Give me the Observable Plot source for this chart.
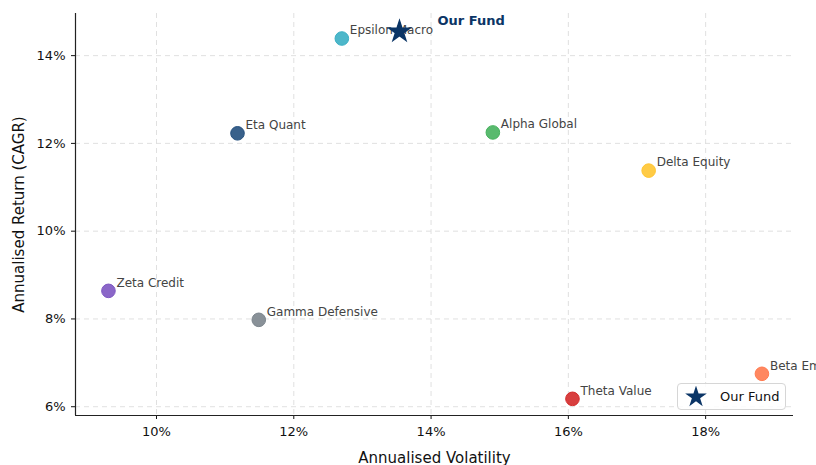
<!DOCTYPE html>
<html><head><meta charset="utf-8">
<script src="https://cdn.jsdelivr.net/npm/d3@7"></script>
<script src="https://cdn.jsdelivr.net/npm/@observablehq/plot@0.6"></script>
<style>
body{margin:0;background:#fff;font-family:"DejaVu Sans",sans-serif;}
#wrap{position:relative;width:816px;height:465px;overflow:hidden;}
#legend{position:absolute;left:677px;top:383px;width:109px;height:27px;border:1px solid #d6d6d6;border-radius:4px;background:rgba(255,255,255,0.85);font:13px "DejaVu Sans",sans-serif;color:#111;box-sizing:border-box;}
#legend svg{position:absolute;left:6px;top:2px;}
#legend span{position:absolute;left:42px;top:5px;}
</style></head><body>
<div id="wrap"><div id="legend"><svg width="24" height="22"><path id="lstar"></path></svg><span>Our Fund</span></div></div>
<script>
const names = ["Epsilon Macro","Eta Quant","Alpha Global","Delta Equity","Zeta Credit","Gamma Defensive","Theta Value","Beta Emerging"];
const volatility = [12.70, 11.18, 14.90, 17.17, 9.30, 11.49, 16.06, 18.82];
const cagr = [14.39, 12.23, 12.25, 11.38, 8.64, 7.98, 6.18, 6.75];
const colors = ["#3aafc4","#24507e","#47b25e","#ffc531","#7e57c2","#7c858d","#d42a2a","#ff7a4f"];
const fundName = "Our Fund";
const fundVol = [13.54];
const fundRet = [14.55];
const fundColor = "#0b3566";
const xTicks = [10,12,14,16,18];
const yTicks = [6,8,10,12,14];
const xDomain = [8.82, 19.28];
const yDomain = [5.80, 14.96];

const peers = names.map((n,i)=>({name:n, x:volatility[i], y:cagr[i], c:colors[i]}));
const fund = fundVol.map((v,i)=>({name:fundName, x:v, y:fundRet[i]}));
const fmt = d => d + "%";

const chart = Plot.plot({
  width: 816, height: 465,
  marginLeft: 75, marginRight: 23, marginTop: 13, marginBottom: 50,
  style: {fontFamily: "DejaVu Sans, sans-serif", fontSize: "13px", color: "#111", overflow: "visible"},
  x: {domain: xDomain},
  y: {domain: yDomain},
  marks: [
    Plot.gridX(xTicks, {stroke: "#dcdcdc", strokeOpacity: 1, strokeDasharray: "5,4", strokeWidth: 0.9}),
    Plot.gridY(yTicks, {stroke: "#dcdcdc", strokeOpacity: 1, strokeDasharray: "5,4", strokeWidth: 0.9}),
    Plot.axisX(xTicks, {tickFormat: fmt, tickSize: 4, tickPadding: 7, label: "Annualised Volatility", labelAnchor: "center", labelArrow: "none", labelOffset: 47, fontSize: 13}),
    Plot.axisY(yTicks, {tickFormat: fmt, tickSize: 4, tickPadding: 6, label: "Annualised Return (CAGR)", labelAnchor: "center", labelArrow: "none", labelOffset: 62, fontSize: 13}),
    Plot.ruleX([xDomain[0]], {stroke: "#222", strokeWidth: 1.2}),
    Plot.ruleY([yDomain[0]], {stroke: "#222", strokeWidth: 1.2}),
    Plot.dot(peers, {x: "x", y: "y", r: 6.8, fill: d => d.c, fillOpacity: 0.9, stroke: d => d.c, strokeWidth: 1}),
    Plot.text(peers, {x: "x", y: "y", text: "name", dx: 8, dy: -8, textAnchor: "start", fill: "#444", fontSize: 12}),
    Plot.dot(fund, {x: "x", y: "y", symbol: "star", r: 6.5, fill: fundColor, stroke: fundColor}),
    Plot.text(fund, {x: "x", y: "y", text: "name", dx: 38, dy: -11, textAnchor: "start", fill: fundColor, fontSize: 13, fontWeight: "bold"})
  ]
});
chart.querySelectorAll("g[aria-label='x-axis label'] text, g[aria-label='y-axis label'] text").forEach(t=>{t.setAttribute("font-size","15"); t.setAttribute("fill","#111");});
document.getElementById("wrap").prepend(chart);
const s = d3.symbol(d3.symbolStar, Math.PI*6.8*6.8)();
const p = document.getElementById("lstar");
p.setAttribute("d", s); p.setAttribute("transform","translate(12,11)"); p.setAttribute("fill", fundColor);
</script>
</body></html>
